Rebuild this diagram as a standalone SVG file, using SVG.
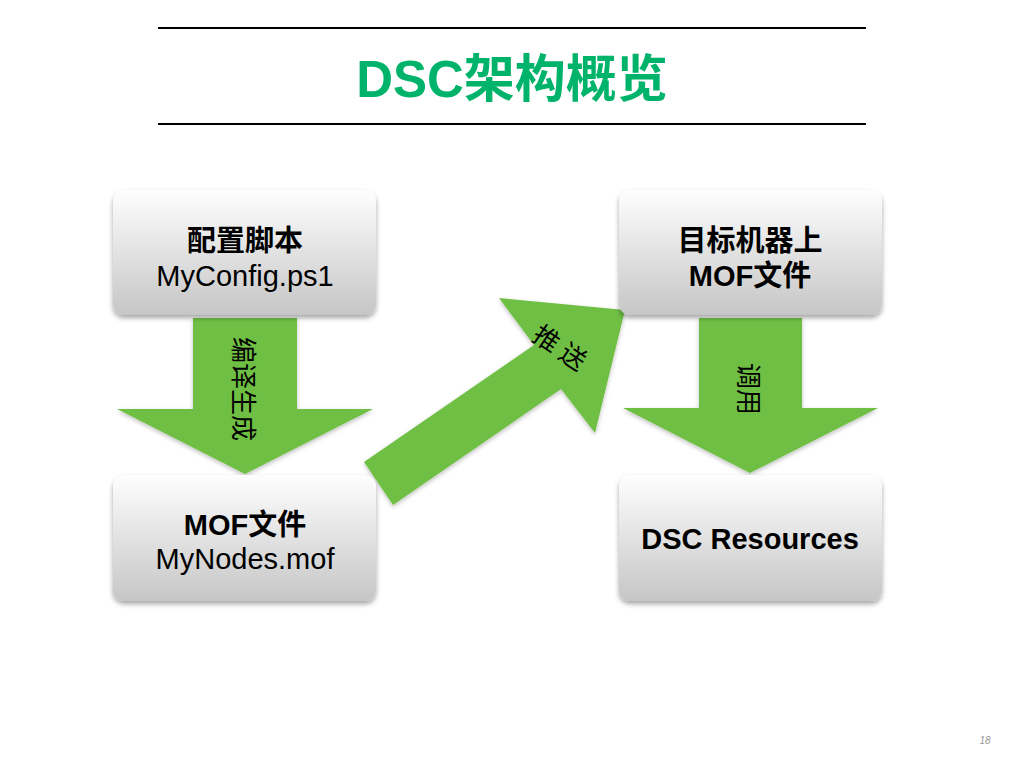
<svg xmlns="http://www.w3.org/2000/svg" width="1024" height="768" viewBox="0 0 1024 768">
<defs>
<linearGradient id="boxg" x1="0" y1="0" x2="0" y2="1">
<stop offset="0" stop-color="#fefefe"/>
<stop offset="1" stop-color="#c6c6c6"/>
</linearGradient>
<filter id="sh" x="-10%" y="-10%" width="120%" height="130%">
<feDropShadow dx="0" dy="3" stdDeviation="2.5" flood-color="#000" flood-opacity="0.35"/>
</filter>
<filter id="ash" x="-10%" y="-10%" width="120%" height="130%">
<feDropShadow dx="0" dy="2" stdDeviation="2" flood-color="#000" flood-opacity="0.25"/>
</filter>
</defs>
<style>
.box{fill:url(#boxg);filter:url(#sh)}
.arrow{fill:#70BF44;filter:url(#ash)}
.t{font-family:'Liberation Sans','Noto Sans CJK SC',sans-serif;font-size:29px;fill:#000;text-anchor:middle}
.b{font-weight:bold}
.at{font-family:'Noto Sans CJK SC',sans-serif;font-size:26px;fill:#000;text-anchor:middle;dominant-baseline:central}
.rule{stroke:#000;stroke-width:2}
</style>
<rect width="1024" height="768" fill="#fff"/>
<g id="title">
<line class="rule" x1="158" y1="28" x2="866" y2="28"/>
<line class="rule" x1="158" y1="124" x2="866" y2="124"/>
<text x="512" y="97" font-family="'Liberation Sans','Noto Sans CJK SC',sans-serif" font-size="51" font-weight="bold" fill="#00B36A" text-anchor="middle">DSC架构概览</text>
</g>
<g id="connectors">
<g id="arrow-compile">
<polygon class="arrow" points="193,318 297,318 297,409 373,409 245,474 117,409 193,409"/>
<text class="at" transform="translate(245,389) rotate(90)">编译生成</text>
</g>
<g id="arrow-push">
<polygon class="arrow" points="364,462 534,345 499,298 625,310 595,433 561,389 393,505"/>
<text class="at" transform="translate(561,346) rotate(34)">推 送</text>
</g>
<g id="arrow-call">
<polygon class="arrow" points="699,318 802,318 802,408 878,408 750,473 623,408 699,408"/>
<text class="at" transform="translate(750,389) rotate(90)">调用</text>
</g>
</g>
<g id="node-config">
<rect class="box" x="113" y="190" width="263" height="125" rx="11"/>
<text class="t b" x="245" y="251">配置脚本</text>
<text class="t" x="245" y="286">MyConfig.ps1</text>
</g>
<g id="node-mof">
<rect class="box" x="113" y="475" width="263" height="126" rx="11"/>
<text class="t b" x="245" y="535">MOF文件</text>
<text class="t" x="245" y="569">MyNodes.mof</text>
</g>
<g id="node-target">
<rect class="box" x="619" y="190" width="263" height="125" rx="11"/>
<text class="t b" x="750" y="251">目标机器上</text>
<text class="t b" x="750" y="286">MOF文件</text>
</g>
<g id="node-resources">
<rect class="box" x="619" y="475" width="263" height="126" rx="11"/>
<text class="t b" x="750" y="549" font-size="30">DSC Resources</text>
</g>
<text x="985" y="744" font-family="'Liberation Sans',sans-serif" font-size="10" font-style="italic" fill="#999" text-anchor="middle">18</text>
</svg>
